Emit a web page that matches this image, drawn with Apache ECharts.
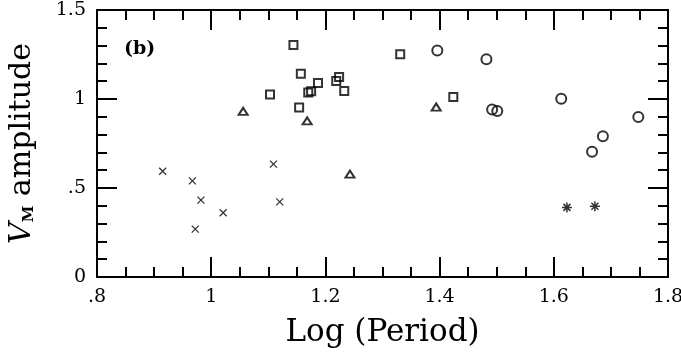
<!DOCTYPE html>
<html>
<head>
<meta charset="utf-8">
<script src="https://cdn.jsdelivr.net/npm/echarts@6/dist/echarts.min.js"></script>
<style>
  html, body { margin: 0; padding: 0; background: #fff; }
  #chart { width: 681px; height: 354px; }
</style>
</head>
<body>
<div id="chart"></div>
<script>
// values: [log period, V_M amplitude]
const crosses = [[0.915, 0.594], [0.967, 0.540], [0.982, 0.432], [1.021, 0.361], [0.972, 0.269], [1.109, 0.634], [1.120, 0.422]]
const squares = [[1.144, 1.303], [1.157, 1.142], [1.187, 1.090], [1.170, 1.036], [1.175, 1.043], [1.103, 1.025], [1.154, 0.952],
  [1.224, 1.123], [1.219, 1.101], [1.233, 1.045], [1.331, 1.251], [1.424, 1.011]]
const triangles = [[1.056, 0.931], [1.168, 0.877], [1.394, 0.955], [1.243, 0.578]]
const circles = [[1.396, 1.273], [1.482, 1.223], [1.492, 0.941], [1.501, 0.933], [1.613, 1.002], [1.748, 0.899], [1.686, 0.791], [1.667, 0.703]]
const stars = [[1.623, 0.391], [1.672, 0.398]]

const xTicks = [0.8, 1, 1.2, 1.4, 1.6, 1.8]
const xTickLabels = ['.8', '1', '1.2', '1.4', '1.6', '1.8']
const yTicks = [0, 0.5, 1, 1.5]
const yTickLabels = ['0', '.5', '1', '1.5']

const label = (ticks, labels) => v => {
  const i = ticks.findIndex(t => Math.abs(t - v) < 1e-6)
  return i < 0 ? '' : labels[i]
}

const font = 'DejaVu Serif'
const line = { lineStyle: { color: '#000', width: 2 } }

const xBase = {
  type: 'value', min: 0.8, max: 1.8, interval: 0.2,
  axisLine: { show: true, onZero: false, ...line },
  axisTick: { inside: true, length: 20, ...line },
  minorTick: { show: true, splitNumber: 4, length: 10, ...line },
  splitLine: { show: false }, minorSplitLine: { show: false }
}
const yBase = {
  type: 'value', min: 0, max: 1.5, interval: 0.5,
  axisLine: { show: true, onZero: false, ...line },
  axisTick: { inside: true, length: 20, ...line },
  minorTick: { show: true, splitNumber: 5, length: 10, ...line },
  splitLine: { show: false }, minorSplitLine: { show: false }
}

const hollow = (name, symbol, size, data) => ({
  name, type: 'scatter', data, symbol, symbolSize: size,
  itemStyle: { color: 'none', borderColor: '#000', borderWidth: 2 },
  emphasis: { disabled: true }
})

const chart = echarts.init(document.getElementById('chart'))
chart.setOption({
  animation: false,
  grid: { left: 97, right: 13, top: 10, bottom: 77, containLabel: false, outerBoundsMode: 'none' },
  xAxis: [
    {
      ...xBase, position: 'bottom',
      axisLabel: { margin: 11, color: '#000', fontFamily: font, fontSize: 19, formatter: label(xTicks, xTickLabels) },
      name: 'Log (Period)', nameLocation: 'middle', nameGap: 40,
      nameTextStyle: { color: '#000', fontFamily: font, fontSize: 31 }
    },
    { ...xBase, position: 'top', axisLabel: { show: false } }
  ],
  yAxis: [
    {
      ...yBase, position: 'left',
      axisLabel: { margin: 11, color: '#000', fontFamily: font, fontSize: 19, formatter: label(yTicks, yTickLabels) },
      name: '{v|V}{s|M} amplitude', nameLocation: 'middle', nameGap: 60,
      nameTextStyle: {
        color: '#000', fontFamily: font, fontSize: 30,
        rich: {
          v: { fontFamily: font, fontSize: 30, fontStyle: 'italic', color: '#000' },
          s: { fontFamily: font, fontSize: 15, fontWeight: 'bold', color: '#000', verticalAlign: 'bottom', padding: [14, 0, 0, 0] }
        }
      }
    },
    { ...yBase, position: 'right', axisLabel: { show: false } }
  ],
  graphic: [{
    type: 'text', left: 124, top: 40,
    style: { text: '(b)', fontFamily: font, fontSize: 19, fontWeight: 'bold', fill: '#000' }
  }],
  series: [
    {
      name: 'x', type: 'scatter', data: crosses, symbol: 'path://M0,0L10,10M10,0L0,10', symbolSize: 7,
      itemStyle: { color: 'none', borderColor: '#000', borderWidth: 1.3 }, emphasis: { disabled: true }
    },
    hollow('square', 'rect', 8, squares),
    hollow('triangle', 'triangle', [9, 7], triangles),
    hollow('circle', 'circle', 10, circles),
    {
      name: 'star', type: 'scatter', data: stars,
      symbol: 'path://M0,5L10,5M5,0L5,10M1.5,1.5L8.5,8.5M8.5,1.5L1.5,8.5', symbolSize: 10,
      itemStyle: { color: 'none', borderColor: '#000', borderWidth: 1.5 }, emphasis: { disabled: true }
    }
  ]
})
</script>
</body>
</html>
